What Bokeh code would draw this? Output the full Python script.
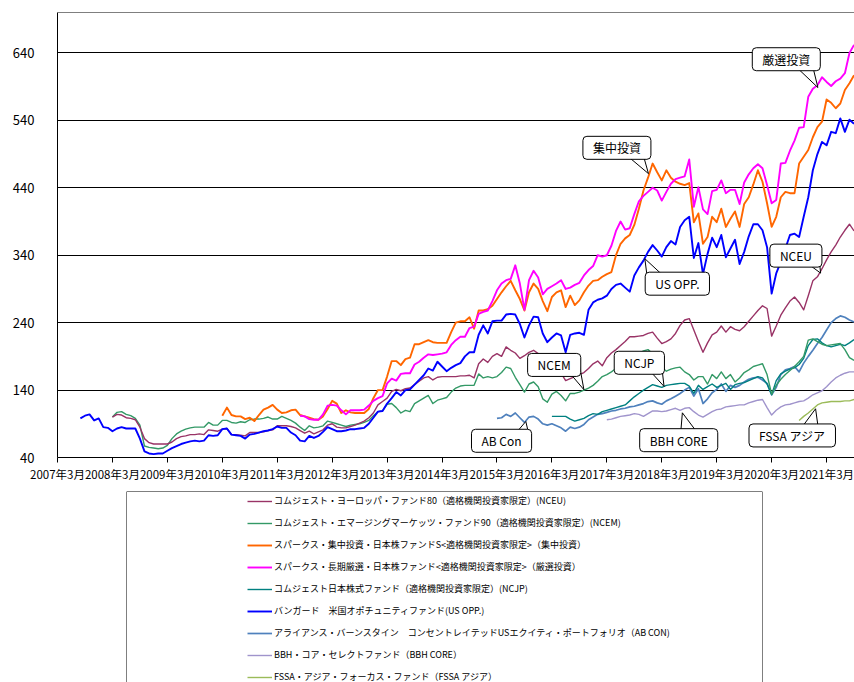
from bokeh.plotting import figure
from bokeh.models import Range1d, FixedTicker, Span, Label, Legend, LegendItem, Spacer, AllLabels
from bokeh.layouts import column, row
from bokeh.embed import file_html
from bokeh.resources import INLINE

FONT = "Noto Sans CJK JP"

# ---------------- data ----------------
# x = months since 2007年3月
x_tick_months = [0, 12, 24, 36, 48, 60, 72, 84, 96, 108, 120, 132, 144, 156, 168]
x_tick_labels = ["2007年3月", "2008年3月", "2009年3月", "2010年3月", "2011年3月",
                 "2012年3月", "2013年3月", "2014年3月", "2015年3月", "2016年3月",
                 "2017年3月", "2018年3月", "2019年3月", "2020年3月", "2021年3月"]
y_ticks = [40, 140, 240, 340, 440, 540, 640]

series_names = [
    "コムジェスト・ヨーロッパ・ファンド80（適格機関投資家限定）(NCEU)",
    "コムジェスト・エマージングマーケッツ・ファンド90（適格機関投資家限定）(NCEM)",
    "スパークス・集中投資・日本株ファンドS<適格機関投資家限定>（集中投資）",
    "スパークス・長期厳選・日本株ファンド<適格機関投資家限定>（厳選投資）",
    "コムジェスト日本株式ファンド（適格機関投資家限定）(NCJP)",
    "バンガード　米国オポチュニティファンド(US OPP.)",
    "アライアンス・バーンスタイン　コンセントレイテッドUSエクイティ・ポートフォリオ（AB CON)",
    "BBH・コア・セレクトファンド（BBH CORE）",
    "FSSA・アジア・フォーカス・ファンド（FSSA アジア）",
]
series_colors = ["#993366", "#339966", "#FF6600", "#FF00FF", "#008080",
                 "#0000FF", "#4F81BD", "#A094CC", "#9BBB59"]
series_widths = [1.4, 1.4, 1.9, 1.9, 1.4, 1.9, 1.7, 1.4, 1.4]

nceu_start = 12
nceu = [100, 104, 103, 99, 98, 96, 85, 68, 62, 60,
        60, 60, 60, 63, 68, 71, 72, 74, 74, 75,
        74, 81, 80, 79, 82, 83, 74, 74, 73, 72,
        77, 77, 77, 78, 80, 81, 87, 87, 87, 86,
        84, 80, 76, 79, 75, 78, 81, 88, 90, 85,
        84, 84, 86, 88, 91, 94, 99, 106, 118, 123,
        128, 138, 141, 139, 142, 143, 148, 153, 158, 160,
        155, 159, 160, 160, 160, 160, 161, 161, 162, 158,
        179, 186, 181, 190, 194, 190, 204, 199, 195, 187,
        191, 196, 199, 194, 187, 182, 176, 170, 165, 154,
        157, 160, 163, 166, 172, 179, 183, 176, 188, 195,
        200, 206, 212, 219, 219, 220, 221, 224, 226, 217,
        209, 212, 216, 224, 236, 244, 246, 229, 212, 196,
        210, 222, 226, 235, 226, 234, 230, 228, 234, 242,
        250, 258, 265, 261, 220, 235, 251, 262, 272, 278,
        270, 259, 280, 302, 308, 320, 333, 345, 355, 367,
        377, 386, 376]

ncem_start = 12
ncem = [100, 107, 108, 104, 102, 98, 88, 57, 55, 54,
        53, 54, 58, 68, 75, 79, 82, 84, 85, 85,
        85, 92, 88, 88, 95, 95, 92, 91, 93, 92,
        96, 97, 97, 98, 100, 97, 97, 101, 98, 95,
        91, 85, 80, 87, 84, 85, 87, 94, 92, 90,
        88, 86, 88, 89, 90, 92, 95, 102, 108, 109,
        119, 120, 114, 106, 110, 108, 120, 124, 128, 132,
        120, 125, 127, 129, 137, 143, 146, 147, 147, 147,
        164, 158, 160, 158, 160, 166, 174, 172, 159, 148,
        137, 149, 152, 145, 127, 122, 134, 138, 132, 124,
        135, 135, 137, 140, 143, 147, 153, 160, 163, 167,
        172, 178, 183, 187, 190, 194, 198, 200, 194, 184,
        174, 168, 171, 173, 174, 167, 163, 155, 160, 160,
        149, 163, 157, 167, 157, 163, 152, 158, 166, 170,
        175, 177, 179, 163, 134, 147, 156, 163, 169, 175,
        182, 190, 214, 216, 212, 208, 206, 207, 208, 209,
        200, 188, 184]

shuchu_start = 36
shuchu = [102, 114, 103, 101, 101, 97, 99, 94, 103, 111,
          114, 118, 111, 106, 107, 110, 111, 103, 101, 99,
          97, 96, 101, 112, 124, 120, 106, 110, 107, 106,
          106, 106, 112, 128, 140, 140, 160, 183, 183, 177,
          186, 188, 208, 208, 211, 214, 211, 210, 210, 210,
          226, 240, 242, 242, 248, 231, 258, 258, 260, 265,
          275, 285, 294, 302, 288, 275, 258, 285, 298, 290,
          272, 257, 278, 285, 288, 263, 280, 266, 273, 285,
          295, 302, 303, 308, 312, 315, 340, 357, 365, 370,
          385, 409, 436, 455, 476, 463, 451, 466, 455, 449,
          446, 444, 447, 389, 402, 357, 367, 397, 389, 409,
          382, 394, 405, 382, 416, 426, 445, 466, 449, 417,
          382, 397, 426, 434, 432, 432, 476, 486, 496, 515,
          530, 538, 571, 566, 558, 565, 585, 595, 607]

gensen_start = 53
gensen = [102, 101, 97, 96, 96, 104, 117, 118, 117, 110,
          104, 110, 110, 110, 111, 117, 124, 128, 131, 150,
          157, 154, 164, 165, 165, 178, 182, 188, 193, 192,
          193, 194, 196, 207, 214, 219, 219, 232, 234, 253,
          256, 258, 272, 288, 298, 303, 305, 325, 298, 259,
          303, 317, 307, 282, 290, 294, 298, 303, 290, 292,
          296, 299, 310, 318, 324, 340, 338, 340, 354, 376,
          390, 378, 380, 401, 420, 428, 434, 440, 436, 421,
          434, 446, 453, 455, 457, 482, 412, 441, 408, 401,
          435, 437, 451, 432, 437, 437, 416, 448, 460, 469,
          475, 469, 444, 417, 422, 476, 477, 495, 510, 529,
          530, 575, 587, 592, 604, 597, 591, 598, 602, 610, 640, 652]

ncjp_start = 108
ncjp = [101, 101, 101, 101, 97, 94, 96, 98, 102, 105,
        104, 108, 110, 112, 114, 116, 118, 124, 130, 135,
        140, 144, 148, 146, 144, 147, 148, 149, 150, 150,
        146, 135, 147, 141, 145, 149, 144, 147, 150, 141,
        148, 150, 151, 154, 157, 160, 158, 149, 133, 154,
        164, 168, 171, 173, 178, 187, 206, 215, 216, 210,
        206, 204, 206, 208, 206, 210, 215]

usopp_start = 5
usopp = [98, 102, 104, 95, 98, 85, 84, 79, 83, 85,
         83, 83, 83, 68, 49, 46, 45, 46, 46, 50,
         54, 57, 60, 62, 64, 65, 64, 65, 73, 72,
         73, 82, 83, 74, 73, 72, 68, 74, 75, 77,
         79, 80, 82, 86, 84, 84, 77, 73, 65, 64,
         72, 69, 72, 78, 85, 82, 79, 79, 80, 82,
         82, 83, 84, 90, 99, 108, 109, 120, 128, 137,
         132, 140, 141, 148, 155, 162, 172, 169, 182, 175,
         168, 173, 177, 180, 190, 196, 196, 222, 236, 224,
         242, 243, 243, 252, 253, 252, 238, 218, 236, 249,
         248, 224, 211, 218, 224, 221, 196, 222, 224, 225,
         222, 259, 270, 274, 276, 280, 290, 296, 298, 292,
         286, 310, 322, 332, 345, 355, 347, 338, 352, 361,
         356, 382, 392, 397, 336, 358, 312, 342, 366, 352,
         370, 337, 350, 363, 327, 345, 368, 386, 386, 377,
         352, 283, 313, 330, 350, 370, 372, 367, 397, 426,
         466, 490, 508, 503, 523, 521, 543, 523, 541, 535]

abcon_start = 96
abcon = [98, 99, 104, 101, 106, 99, 92, 100, 101, 97,
         90, 88, 90, 87, 84, 79, 85, 83, 85, 89,
         96, 100, 104, 105, 107, 109, 110, 112, 113, 115,
         116, 118, 120, 123, 124, 121, 119, 124, 127, 131,
         135, 140, 144, 131, 142, 120, 127, 136, 141, 149,
         138, 147, 144, 147, 152, 156, 158, 159, 155, 150,
         133, 144, 163, 170, 172, 175, 167, 180, 190, 199,
         209, 218, 229, 240, 246, 250, 248, 244, 241]

bbh_start = 120
bbh = [96, 97, 99, 101, 102, 103, 105, 104, 101, 105,
       109, 109, 108, 109, 111, 113, 110, 113, 114, 108,
       103, 100, 104, 108, 111, 112, 115, 116, 117, 118,
       118, 121, 123, 125, 126, 114, 103, 110, 115, 118,
       119, 121, 123, 124, 128, 133, 136, 139, 145, 152,
       158, 162, 165, 167, 167]

fssa_start = 162
fssa = [95, 101, 106, 112, 118, 121, 122, 123, 123, 123, 124, 124, 126]

series_starts = [nceu_start, ncem_start, shuchu_start, gensen_start, ncjp_start,
                 usopp_start, abcon_start, bbh_start, fssa_start]
series_values = [nceu, ncem, shuchu, gensen, ncjp, usopp, abcon, bbh, fssa]
# drawing order (back to front)
draw_order = [8, 7, 6, 4, 1, 0, 5, 2, 3]

# callout annotations (month, value)
callout_text = ["厳選投資", "集中投資", "US OPP.", "NCEU", "NCEM", "NCJP",
                "AB Con", "BBH CORE", "FSSA アジア"]
callout_x = [159.2, 122.2, 135.4, 161.3, 108.5, 127.1, 97.0, 135.7, 160.5]
callout_y = [630.7, 499.3, 297.8, 339.4, 177.3, 180.5, 64.8, 65.7, 72.7]
tip_x = [166.1, 129.1, 128.3, 166.7, 115.0, 132.5, 102.3, 136.5, 165.6]
tip_y = [588.7, 461.0, 334.9, 313.5, 140.5, 145.4, 93.4, 106.3, 112.3]
base_x0 = [159.6, 122.4, 129.0, 161.5, 110.4, 127.8, 98.7, 136.0, 161.3]
base_x1 = [164.6, 127.5, 134.2, 166.3, 114.0, 131.9, 103.3, 141.0, 166.4]

# ---------------- main chart ----------------
p = figure(width=854, height=490, x_range=Range1d(0, 174.1), y_range=Range1d(40, 700),
           output_backend="svg", toolbar_location=None,
           min_border_left=57, min_border_right=0, min_border_top=12, min_border_bottom=33)
p.outline_line_color = None
p.background_fill_color = "white"
p.border_fill_color = "white"

p.xgrid.grid_line_color = None
p.ygrid.ticker = FixedTicker(ticks=y_ticks)
p.ygrid.grid_line_color = "black"
p.ygrid.grid_line_width = 1

p.yaxis.ticker = FixedTicker(ticks=y_ticks)
p.yaxis.major_tick_line_color = None
p.yaxis.minor_tick_line_color = None
p.yaxis.axis_line_color = "black"
p.yaxis.major_label_standoff = 17
p.yaxis.major_label_text_font = FONT
p.yaxis.major_label_text_font_size = "13px"
p.yaxis.major_label_text_color = "black"

p.xaxis.ticker = FixedTicker(ticks=x_tick_months)
p.xaxis.major_label_overrides = {m: t for m, t in zip(x_tick_months, x_tick_labels)}
p.xaxis.major_label_policy = AllLabels()
p.xaxis.minor_tick_line_color = None
p.xaxis.major_tick_out = 5
p.xaxis.major_tick_in = 0
p.xaxis.major_tick_line_color = "black"
p.xaxis.axis_line_color = "black"
p.xaxis.major_label_standoff = 3
p.xaxis.major_label_text_font = FONT
p.xaxis.major_label_text_font_size = "11.5px"
p.xaxis.major_label_text_color = "black"

p.add_layout(Span(location=700, dimension="width", line_color="black", line_width=1))

for i in draw_order:
    vals = series_values[i]
    xs = [series_starts[i] + k for k in range(len(vals))]
    p.line(xs, vals, line_color=series_colors[i], line_width=series_widths[i], line_join="round")

# callout pointers
wx = [[a, b, t] for a, b, t in zip(base_x0, base_x1, tip_x)]
wy = [[c, c, t] for c, t in zip(callout_y, tip_y)]
p.patches(xs=wx, ys=wy, fill_color="white", line_color="black", line_width=1)

for t, cx, cy in zip(callout_text, callout_x, callout_y):
    p.add_layout(Label(x=cx, y=cy, text=t, text_align="center", text_baseline="middle",
                       text_font=FONT, text_font_size="12px", text_color="black",
                       background_fill_color="white", border_line_color="black",
                       border_line_width=1, padding=(10, 3), border_radius=4))

# ---------------- legend box ----------------
leg = figure(width=638, height=192, x_range=Range1d(0, 1), y_range=Range1d(0, 1),
             output_backend="svg", toolbar_location=None,
             x_axis_type=None, y_axis_type=None,
             min_border_left=1, min_border_right=1, min_border_top=1, min_border_bottom=0)
leg.outline_line_color = None
leg.grid.visible = False
leg.add_layout(Span(location=0, dimension="height", line_color="black", line_width=1))
leg.add_layout(Span(location=1, dimension="height", line_color="black", line_width=1))
leg.add_layout(Span(location=1, dimension="width", line_color="black", line_width=1))

nan = float("nan")
dummies = [leg.line(x=[nan], y=[nan], line_color=c, line_width=w)
           for c, w in zip(series_colors, series_widths)]
legend = Legend(items=[LegendItem(label=n, renderers=[r]) for n, r in zip(series_names, dummies)],
                location=(121, -5.5), padding=0, spacing=0, margin=0,
                glyph_width=25, glyph_height=22, label_height=22, label_standoff=2,
                label_text_font=FONT, label_text_font_size="9px", label_text_color="black",
                border_line_color=None, background_fill_alpha=0)
leg.add_layout(legend)

layout = column(p, row(Spacer(width=125, height=192), leg))

open("out.html", "w").write(file_html(layout, INLINE))
